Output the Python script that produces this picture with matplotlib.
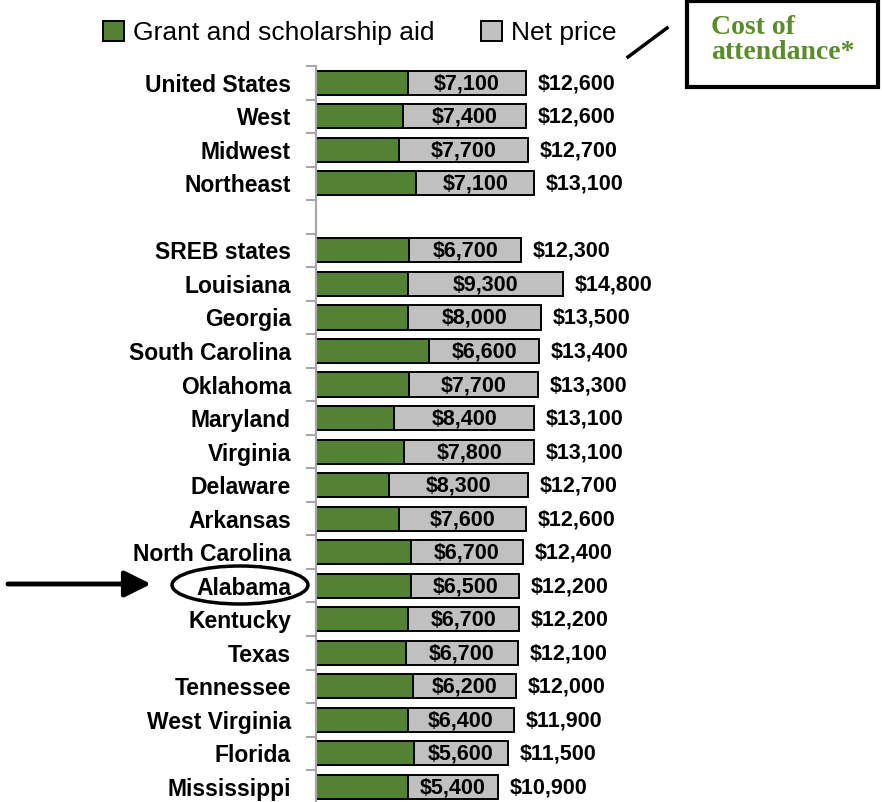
import matplotlib
matplotlib.use("Agg")
import matplotlib.pyplot as plt
from matplotlib.patches import Ellipse, Rectangle
import numpy as np

plt.rcParams['font.family'] = ['Liberation Sans', 'DejaVu Sans']

# ---- data ----
regions = ["United States", "West", "Midwest", "Northeast"]
region_net = [7100, 7400, 7700, 7100]
region_cost = [12600, 12600, 12700, 13100]

states = ["SREB states", "Louisiana", "Georgia", "South Carolina", "Oklahoma",
          "Maryland", "Virginia", "Delaware", "Arkansas", "North Carolina",
          "Alabama", "Kentucky", "Texas", "Tennessee", "West Virginia",
          "Florida", "Mississippi"]
state_net = [6700, 9300, 8000, 6600, 7700, 8400, 7800, 8300, 7600, 6700,
             6500, 6700, 6700, 6200, 6400, 5600, 5400]
state_cost = [12300, 14800, 13500, 13400, 13300, 13100, 13100, 12700, 12600,
              12400, 12200, 12200, 12100, 12000, 11900, 11500, 10900]

labels = regions + states
net = np.array(region_net + state_net)
cost = np.array(region_cost + state_cost)
grant = cost - net
ypos = np.array(list(range(len(regions))) +
                list(range(len(regions) + 1, len(regions) + 1 + len(states))))

GREEN = "#548235"
GRAY = "#c0c0c0"

W, H = 882, 802
fig = plt.figure(figsize=(W / 100, H / 100), dpi=100)
ax_left, ax_top, ax_bottom = 316, 66, 802
ax = fig.add_axes([ax_left / W, 0, (W - ax_left) / W, (ax_bottom - ax_top) / H])

b1 = ax.barh(ypos, grant, height=0.72, color=GREEN, edgecolor="black",
             linewidth=1.4, label="Grant and scholarship aid")
b2 = ax.barh(ypos, net, left=grant, height=0.72, color=GRAY, edgecolor="black",
             linewidth=1.4, label="Net price")

px_per_unit = 1000 / 16.667
ax.set_xlim(0, (W - ax_left) * px_per_unit)
ax.set_ylim(21.45, -0.5)

for y, g, n, c in zip(ypos, grant, net, cost):
    ax.text(g + n / 2, y + 0.03, f"${n:,}", ha="center", va="center",
            fontsize=15.5, fontweight="bold")
    ax.text(c + 700, y + 0.03, f"${c:,}", ha="left", va="center",
            fontsize=15.5, fontweight="bold")

# axis styling
for s in ["top", "right", "bottom"]:
    ax.spines[s].set_visible(False)
ax.spines["left"].set_color("#a6a6a6")
ax.spines["left"].set_linewidth(1.5)
ax.set_xticks([])
all_pos = np.arange(0, 22)
ax.set_yticks(all_pos - 0.5, minor=False)
ax.set_yticklabels([])
ax.tick_params(axis="y", which="major", length=7, width=1.5, color="#a6a6a6",
               direction="out")
ax.set_yticks(ypos, minor=True)
ax.set_yticklabels(labels, minor=True, fontsize=16.5, fontweight="bold")
ax.tick_params(axis="y", which="minor", length=0, pad=18)
ax.patch.set_alpha(0)

# legend
fig.legend(handles=[b1, b2], loc="upper left", bbox_to_anchor=(92 / W, 1 - 10 / H),
           ncol=2, frameon=False, fontsize=19, handlelength=0.8,
           handleheight=0.8, handletextpad=0.35, columnspacing=1.75,
           borderaxespad=0)

# cost of attendance box
fig.patches.append(Rectangle((687 / W, 1 - 87 / H), 191 / W, 86 / H,
                             transform=fig.transFigure, fill=False,
                             edgecolor="black", linewidth=3))
fig.text(711 / W, 1 - 15 / H, "Cost of\nattendance*", ha="left", va="top",
         fontsize=20, fontweight="bold", color="#5b8c2a",
         family=["Liberation Serif", "DejaVu Serif"], linespacing=1.0,
         transform=fig.transFigure)
fig.add_artist(plt.Line2D([628 / W, 667 / W], [1 - 57 / H, 1 - 28 / H],
                          transform=fig.transFigure, color="black", linewidth=2.5))

# arrow and ellipse highlighting Alabama
fig.add_artist(Ellipse((240 / W, 1 - 585 / H), 136 / W, 38 / H,
                       transform=fig.transFigure, fill=False,
                       edgecolor="black", linewidth=2.5))
ax_arrow = fig.add_axes([0, 0, 1, 1])
ax_arrow.set_axis_off()
ax_arrow.set_xlim(0, W)
ax_arrow.set_ylim(H, 0)
ax_arrow.annotate("", xy=(151, 584), xytext=(8, 584),
                  arrowprops=dict(arrowstyle="-|>,head_length=1.6,head_width=0.8",
                                  color="black", lw=3.5, shrinkA=0, shrinkB=0))

fig.savefig("out.png", dpi=100)
